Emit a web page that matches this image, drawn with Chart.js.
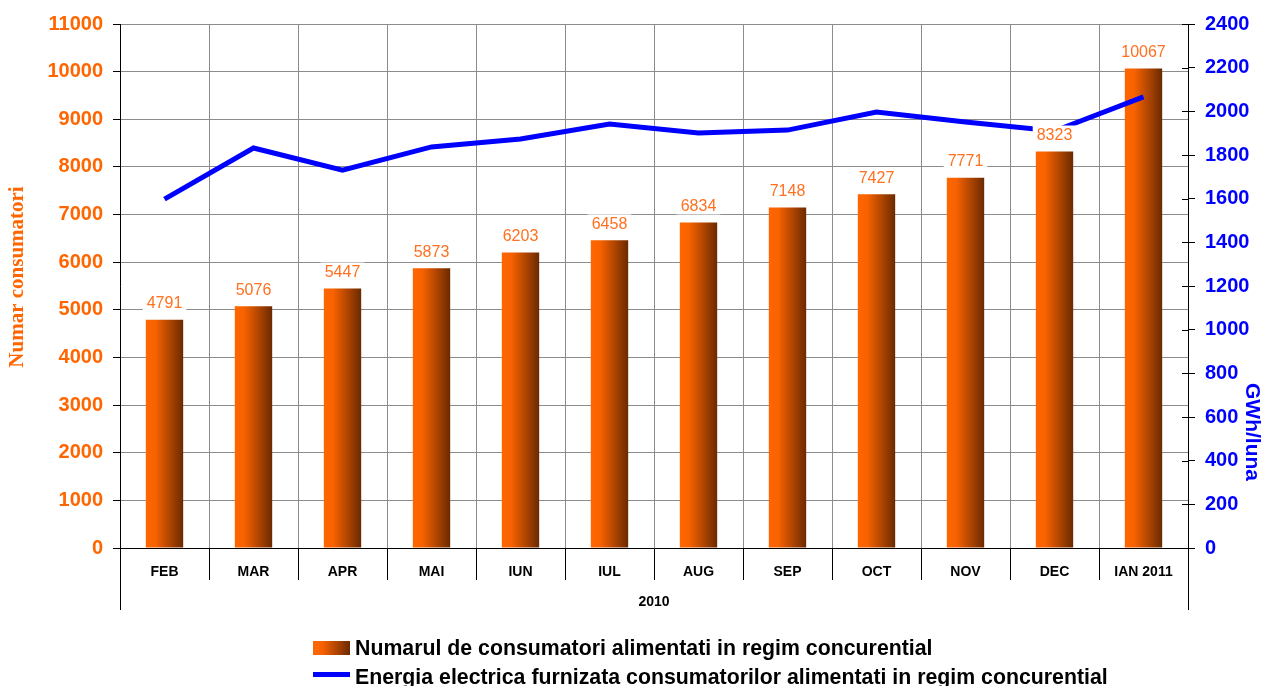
<!DOCTYPE html>
<html>
<head>
<meta charset="utf-8">
<script src="https://cdn.jsdelivr.net/npm/chart.js@4"></script>
<style>
    body { margin: 0; background: #fff; overflow: hidden; }
    #wrap { position: relative; width: 1264px; height: 686px; }
    .leg { position: absolute; left: 313px; font: bold 21.3px Arial, "Liberation Sans", sans-serif; color: #000; white-space: nowrap; line-height: 24px; }
    .leg .txt { position: absolute; left: 42px; top: 0; }
    #leg1 { top: 636px; height: 24px; }
    #leg1 .box { position: absolute; left: 0; top: 5px; width: 37px; height: 14px;
        background: linear-gradient(to right, #ff6600 0%, #f86200 25%, #6b2a00 100%); }
    #leg2 { top: 665px; height: 24px; }
    #leg2 .ln { position: absolute; left: 0; top: 7px; width: 37px; height: 5px; background: #0000ff; }
</style>
</head>
<body>
<div id="wrap">
    <canvas id="grafic" width="1264" height="686"></canvas>
    <div class="leg" id="leg1"><div class="box"></div><div class="txt">Numarul de consumatori alimentati in regim concurential</div></div>
    <div class="leg" id="leg2"><div class="ln"></div><div class="txt">Energia electrica furnizata consumatorilor alimentati in regim concurential</div></div>
</div>
<script>
// date
const luni = ['FEB', 'MAR', 'APR', 'MAI', 'IUN', 'IUL', 'AUG', 'SEP', 'OCT', 'NOV', 'DEC', 'IAN 2011'];
const numarConsumatori = [4791, 5076, 5447, 5873, 6203, 6458, 6834, 7148, 7427, 7771, 8323, 10067];
const energieGWh = [1598, 1832, 1731, 1837, 1873, 1942, 1901, 1914, 1997, 1951, 1910, 2066];
const anEticheta = '2010';
const titluStanga = 'Numar consumatori';
const titluDreapta = 'GWh/luna';

const portocaliu = '#ff6600';
const albastru = '#0000ff';
const fontAxa = 'Arial, "Liberation Sans", sans-serif';
const latimeBara = 0.42;

// gradient orizontal pentru fiecare bara
const gradientBara = (c) => {
    const xs = c.chart.scales.x;
    if (c.type !== 'data' || !xs || !xs.width) return portocaliu;
    const cx = xs.getPixelForValue(c.dataIndex);
    const w = xs.width / luni.length * latimeBara;
    const g = c.chart.ctx.createLinearGradient(cx - w / 2, 0, cx + w / 2, 0);
    g.addColorStop(0, '#ff6600');
    g.addColorStop(0.25, '#f86200');
    g.addColorStop(1, '#6b2a00');
    return g;
};

// etichete cu fundal alb, linii sub axa, titluri axe
const pluginBare = {
    id: 'pluginBare',
    afterDatasetsDraw(chart) {
        const ctx = chart.ctx;
        const meta = chart.getDatasetMeta(0);
        ctx.save();
        ctx.font = '16px ' + fontAxa;
        ctx.textAlign = 'center';
        ctx.textBaseline = 'middle';
        meta.data.forEach((bar, i) => {
            const txt = String(numarConsumatori[i]);
            const w = ctx.measureText(txt).width;
            const y = bar.y - 17;
            ctx.fillStyle = '#fff';
            ctx.fillRect(bar.x - w / 2 - 4, y - 9, w + 8, 18);
            ctx.fillStyle = '#ff7020';
            ctx.fillText(txt, bar.x, y + 1);
        });
        ctx.restore();
    },
    afterDraw(chart) {
        const ctx = chart.ctx;
        const a = chart.chartArea;
        ctx.save();
        ctx.strokeStyle = '#000';
        ctx.lineWidth = 1;
        ctx.beginPath();
        ctx.moveTo(a.left + 0.5, a.bottom);
        ctx.lineTo(a.left + 0.5, a.bottom + 62);
        ctx.moveTo(a.right + 0.5, a.bottom);
        ctx.lineTo(a.right + 0.5, a.bottom + 62);
        const y1 = chart.scales.y1;
        y1.ticks.forEach(t => {
            const py = Math.round(y1.getPixelForValue(t.value)) + 0.5;
            ctx.moveTo(a.right - 6, py);
            ctx.lineTo(a.right, py);
        });
        ctx.stroke();
        ctx.fillStyle = portocaliu;
        ctx.font = 'bold 21px "Liberation Serif", "Times New Roman", serif';
        ctx.textAlign = 'center';
        ctx.textBaseline = 'middle';
        ctx.translate(18, 277);
        ctx.rotate(-Math.PI / 2);
        ctx.fillText(titluStanga, 0, 0);
        ctx.restore();
        ctx.save();
        ctx.fillStyle = albastru;
        ctx.font = 'bold 21px ' + fontAxa;
        ctx.textAlign = 'center';
        ctx.textBaseline = 'middle';
        ctx.translate(1252, 432);
        ctx.rotate(Math.PI / 2);
        ctx.fillText(titluDreapta, 0, 0);
        ctx.restore();
    }
};

const data = {
    labels: luni,
    datasets: [
        {
            type: 'bar',
            label: 'Numarul de consumatori alimentati in regim concurential',
            data: numarConsumatori,
            yAxisID: 'y',
            backgroundColor: gradientBara,
            categoryPercentage: 1,
            barPercentage: latimeBara,
            order: 1
        },
        {
            type: 'line',
            label: 'Energia electrica furnizata consumatorilor alimentati in regim concurential',
            data: energieGWh,
            yAxisID: 'y1',
            borderColor: albastru,
            backgroundColor: albastru,
            borderWidth: 5,
            pointRadius: 0,
            tension: 0,
            order: 0
        }
    ]
};

const config = {
    data: data,
    options: {
        responsive: false,
        animation: false,
        layout: { padding: { top: 24, left: 0, right: 0, bottom: 66 } },
        plugins: {
            legend: { display: false },
            tooltip: { enabled: false }
        },
        scales: {
            x: {
                offset: true,
                grid: {
                    offset: true,
                    color: '#8c8c8c',
                    tickColor: '#000',
                    tickLength: 32,
                    drawTicks: true
                },
                border: { color: '#000' },
                ticks: {
                    color: '#000',
                    font: { family: fontAxa, size: 14, weight: 'bold' },
                    padding: -16,
                    maxRotation: 0,
                    autoSkip: false
                },
                title: {
                    display: true,
                    text: anEticheta,
                    color: '#000',
                    font: { family: fontAxa, size: 14, weight: 'bold' },
                    padding: { top: 0, bottom: 9 }
                },
                afterFit(scale) { scale.height = 72; }
            },
            y: {
                position: 'left',
                min: 0,
                max: 11000,
                ticks: {
                    stepSize: 1000,
                    color: portocaliu,
                    font: { family: fontAxa, size: 20, weight: 'bold' },
                    padding: 10,
                    callback: (v) => String(v)
                },
                grid: { color: '#8c8c8c', tickColor: '#000', tickLength: 7 },
                border: { color: '#000' },
                afterFit(scale) { scale.width = 120; }
            },
            y1: {
                position: 'right',
                min: 0,
                max: 2400,
                ticks: {
                    stepSize: 200,
                    color: albastru,
                    font: { family: fontAxa, size: 20, weight: 'bold' },
                    padding: 10,
                    callback: (v) => String(v)
                },
                grid: { drawOnChartArea: false, tickColor: '#000', tickLength: 7 },
                border: { color: '#000' },
                afterFit(scale) { scale.width = 76; }
            }
        }
    },
    plugins: [pluginBare]
};

const grafic = new Chart(document.getElementById('grafic'), config);
</script>
</body>
</html>
